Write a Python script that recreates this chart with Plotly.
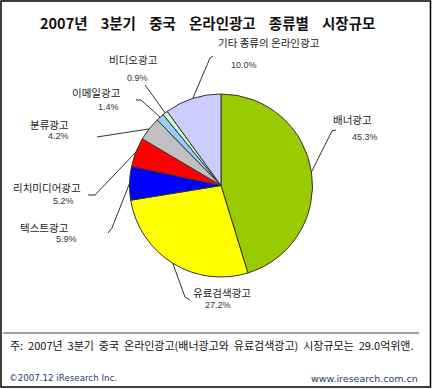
import math
import plotly.graph_objects as go

W, H = 432, 389

title = "2007년 3분기 중국 온라인광고 종류별 시장규모"
categories = ["배너광고", "유료검색광고", "텍스트광고", "리치미디어광고",
              "분류광고", "이메일광고", "비디오광고", "기타 종류의 온라인광고"]
values = [45.3, 27.2, 5.9, 5.2, 4.2, 1.4, 0.9, 10.0]
pct_labels = ["45.3%", "27.2%", "5.9%", "5.2%", "4.2%", "1.4%", "0.9%", "10.0%"]
footnote = "주: 2007년 3분기 중국 온라인광고(배너광고와 유료검색광고) 시장규모는 29.0억위앤."
copyright_txt = "©2007.12 iResearch Inc."
site_txt = "www.iresearch.com.cn"

colors = ["#99CC00", "#FFFF00", "#0000FF", "#FF0000",
          "#C0C0C0", "#99CCFF", "#CCFFCC", "#CCCCFF"]

# layout (pixel positions)
CX, CY, R = 221, 185.5, 91.5
name_pos = [(352, 120), (222, 292), (44, 227), (47, 187),
            (49, 125), (96, 92), (133, 60), (269, 43)]
pct_pos = [(365, 137), (218, 305), (66, 239), (63, 201),
           (58, 136), (108, 107), (137, 78), (244, 65)]
leader_start = [[(336, 130), (332, 131)],
                [(190, 300), (185, 297)],
                [(108, 233), (112, 228)],
                [(88, 195), (95, 195)],
                [(97, 137)],
                [(136, 100), (141, 100)],
                [(145, 85), (148, 89)],
                [(213, 56), (210, 58)]]


def px(x):
    return x / W


def py(y):
    return 1 - y / H


fig = go.Figure()
fig.add_trace(go.Pie(
    labels=categories, values=values, sort=False, direction="clockwise",
    rotation=0, marker=dict(colors=colors, line=dict(color="#333333", width=1)),
    textinfo="none", hoverinfo="label+percent", showlegend=False,
    domain=dict(x=[px(CX - R), px(CX + R)], y=[py(CY + R), py(CY - R)]),
))

shapes = []
# outer frame
shapes.append(dict(type="rect", xref="paper", yref="paper",
                   x0=px(1), x1=px(430.5), y0=py(387), y1=py(1),
                   line=dict(color="#000000", width=1.5)))
# separator line
shapes.append(dict(type="line", xref="paper", yref="paper",
                   x0=px(3), x1=px(419), y0=py(333), y1=py(333),
                   line=dict(color="#444444", width=1)))

# leader lines, ending on the slice mid-angle on the pie edge
total = sum(values)
cum = 0
for i, v in enumerate(values):
    mid = (cum + v / 2) / total * 2 * math.pi
    cum += v
    ex = CX + R * math.sin(mid)
    ey = CY - R * math.cos(mid)
    pts = leader_start[i] + [(ex, ey)]
    path = "M " + " L ".join(f"{px(x):.5f},{py(y):.5f}" for x, y in pts)
    shapes.append(dict(type="path", xref="paper", yref="paper", path=path,
                       line=dict(color="#333333", width=1)))

annotations = []
annotations.append(dict(text="<b>" + title.replace(" ", "\u00a0\u00a0\u00a0\u00a0") + "</b>",
                        x=px(207), y=py(22), xref="paper", yref="paper",
                        showarrow=False, xanchor="center", yanchor="middle",
                        font=dict(family="Noto Sans CJK KR", size=14.5, color="#111111")))
for i, name in enumerate(categories):
    nx, ny = name_pos[i]
    annotations.append(dict(text=name, x=px(nx), y=py(ny), xref="paper", yref="paper",
                            showarrow=False, xanchor="center", yanchor="middle",
                            font=dict(family="Noto Sans CJK KR", size=10.5, color="#222222")))
    qx, qy = pct_pos[i]
    annotations.append(dict(text=pct_labels[i], x=px(qx), y=py(qy), xref="paper", yref="paper",
                            showarrow=False, xanchor="center", yanchor="middle",
                            font=dict(family="Liberation Sans", size=9, color="#333333")))
annotations.append(dict(text=footnote.replace(" ", "\u00a0\u00a0"), x=px(8), y=py(345),
                        xref="paper", yref="paper", showarrow=False,
                        xanchor="left", yanchor="middle",
                        font=dict(family="Noto Sans CJK KR", size=11, color="#111111")))
annotations.append(dict(text=copyright_txt, x=px(7), y=py(378), xref="paper", yref="paper",
                        showarrow=False, xanchor="left", yanchor="middle",
                        font=dict(family="DejaVu Sans", size=8.7, color="#1F3A6E")))
annotations.append(dict(text=site_txt, x=px(420), y=py(378), xref="paper", yref="paper",
                        showarrow=False, xanchor="right", yanchor="middle",
                        font=dict(family="DejaVu Sans", size=9.5, color="#1F3A6E")))

fig.update_layout(width=W, height=H, margin=dict(l=0, r=0, t=0, b=0),
                  paper_bgcolor="#FFFFFF", plot_bgcolor="#FFFFFF",
                  shapes=shapes, annotations=annotations)

fig.write_html("out.html", config={"displayModeBar": False},
               post_script="document.body.style.margin='0';document.body.style.padding='0';"
                           "document.body.style.overflow='hidden';")
